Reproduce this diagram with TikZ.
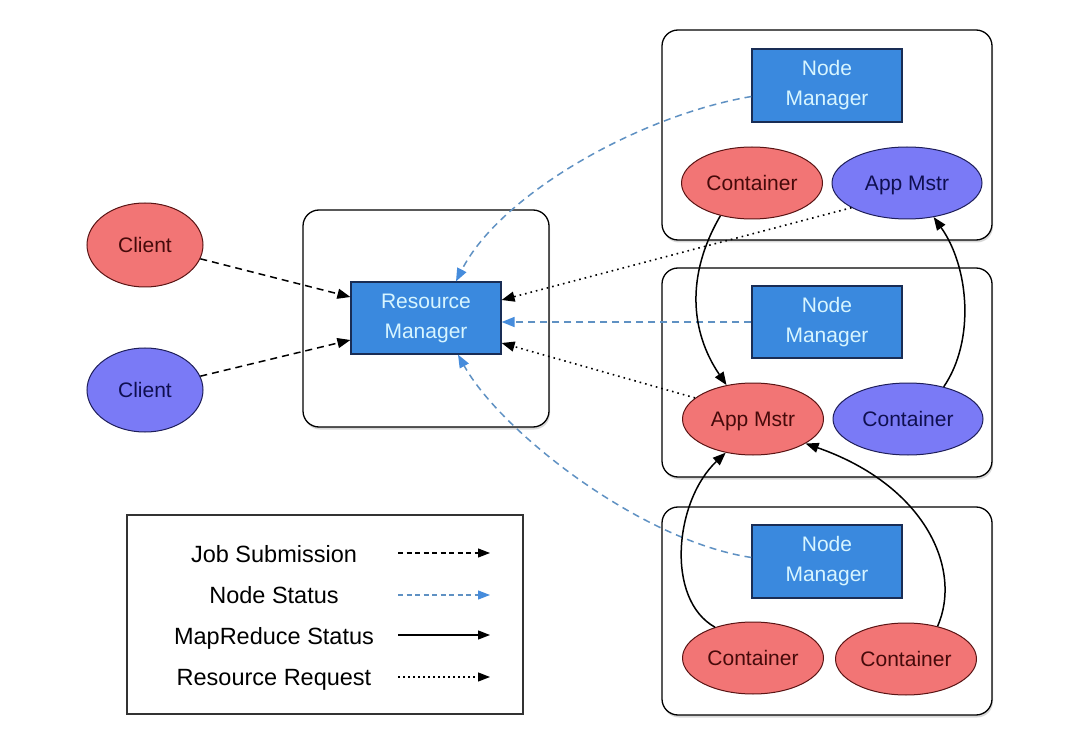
\documentclass[tikz,border=0pt]{standalone}
\usepackage{fontspec}
\setmainfont{Liberation Sans}
\usetikzlibrary{arrows.meta,shapes.geometric,shadows}
\definecolor{rmblue}{RGB}{58,137,222}
\definecolor{rmborder}{RGB}{25,45,85}
\definecolor{redfill}{RGB}{242,117,117}
\definecolor{redborder}{RGB}{90,20,20}
\definecolor{redtext}{RGB}{70,10,10}
\definecolor{purfill}{RGB}{122,122,246}
\definecolor{purborder}{RGB}{30,30,90}
\definecolor{purtext}{RGB}{15,15,80}
\definecolor{boxtext}{RGB}{215,245,255}
\definecolor{nsblue}{RGB}{95,145,195}
\definecolor{nshead}{RGB}{70,140,220}
\begin{document}
\begin{tikzpicture}[x=1pt,y=1pt,
  hostbox/.style={rectangle,draw=black,line width=1.3pt,rounded corners=16pt,fill=white,
    drop shadow={shadow xshift=1pt,shadow yshift=-2.5pt,opacity=0.3}},
  mgr/.style={rectangle,draw=rmborder,line width=1.2pt,fill=rmblue,text=boxtext,
    minimum width=150pt,minimum height=72pt,inner sep=0pt,align=center,
    font=\fontsize{21}{30}\selectfont},
  redell/.style={ellipse,draw=redborder,line width=1pt,fill=redfill,text=redtext,
    inner sep=0pt,text height=15pt,text depth=0pt,font=\fontsize{21}{24}\selectfont},
  purell/.style={ellipse,draw=purborder,line width=1pt,fill=purfill,text=purtext,
    inner sep=0pt,text height=15pt,text depth=0pt,font=\fontsize{21}{24}\selectfont},
  legtext/.style={anchor=base,font=\fontsize{23.5}{27}\selectfont,text=black},
  jobsub/.style={draw=black,line width=1.5pt,dash pattern=on 7pt off 5pt,
    -{Triangle[length=13pt,width=10pt]}},
  nodestat/.style={draw=nsblue,line width=1.5pt,dash pattern=on 7pt off 5pt,
    -{Triangle[length=13pt,width=10pt,color=nshead]}},
  mrstat/.style={draw=black,line width=1.5pt,-{Triangle[length=13pt,width=10pt]}},
  resreq/.style={draw=black,line width=1.6pt,dash pattern=on 1.6pt off 4pt,
    -{Triangle[length=13pt,width=10pt]}},
]
\useasboundingbox[fill=white] (0,0) rectangle (1080,-746);

% host boxes
\node[hostbox,minimum width=246pt,minimum height=217pt] (rmhost) at (426,-318.5) {};
\node[hostbox,minimum width=330pt,minimum height=210pt] (hostA) at (827,-135) {};
\node[hostbox,minimum width=330pt,minimum height=209pt] (hostB) at (827,-372.5) {};
\node[hostbox,minimum width=330pt,minimum height=208pt] (hostC) at (827,-611) {};
\node[rectangle,draw=black!80,line width=1.2pt,minimum width=396pt,minimum height=199pt] (legend) at (325,-614.5) {};

% managers
\node[mgr] (rm) at (426,-318) {Resource\\Manager};
\node[mgr,minimum height=73pt] (nmA) at (827,-85.5) {Node\\Manager};
\node[mgr] (nmB) at (827,-322) {Node\\Manager};
\node[mgr,minimum height=73pt] (nmC) at (827,-561.5) {Node\\Manager};

% clients
\node[redell,minimum width=116pt,minimum height=84pt] (cl1) at (145,-245) {Client};
\node[purell,minimum width=116pt,minimum height=84pt] (cl2) at (145,-390) {Client};

% containers / app masters
\node[redell,minimum width=141pt,minimum height=72pt] (ctA) at (752,-183) {Container};
\node[purell,minimum width=150pt,minimum height=72pt] (amA) at (907,-183) {App Mstr};
\node[redell,minimum width=141pt,minimum height=72pt] (amB) at (753,-419) {App Mstr};
\node[purell,minimum width=150pt,minimum height=72pt] (ctB) at (908,-419) {Container};
\node[redell,minimum width=141pt,minimum height=72pt] (ctC) at (753,-658) {Container};
\node[redell,minimum width=141pt,minimum height=72pt] (ctD) at (906,-659) {Container};

% job submission
\draw[jobsub] (cl1.-14) -- ([yshift=21pt]rm.west);
\draw[jobsub] (cl2.14) -- ([yshift=-22pt]rm.west);

% resource requests
\draw[resreq] (amA.204) -- ([yshift=18pt]rm.east);
\draw[resreq] (amB.160) -- ([yshift=-25pt]rm.east);

% node status
\draw[nodestat] ([yshift=-11pt]nmA.west) .. controls +(-112,-19) and +(44,87) .. ([xshift=30pt]rm.north);
\draw[nodestat] (nmB.west) -- (nmB.west -| rm.east);
\draw[nodestat] ([yshift=4pt]nmC.west) .. controls +(-112,17) and +(42,-76) .. ([xshift=32pt]rm.south);

% mapreduce status
\draw[mrstat] (ctA.226) .. controls +(-35,-60) and +(-36,53) .. (amB.128);
\draw[mrstat] (ctB.42) .. controls +(32,47) and +(35,-49) .. (amA.-52);
\draw[mrstat] (ctC.141) .. controls +(-50,28) and +(-51,-48) .. (amB.231);
\draw[mrstat] (ctD.46) .. controls +(25,57) and +(120,-42) .. (amB.-25);

% legend
\node[legtext] (lg1) at (274,-562) {Job Submission};
\node[legtext] (lg2) at (274,-603) {Node Status};
\node[legtext] (lg3) at (274,-644) {MapReduce Status};
\node[legtext] (lg4) at (274,-685) {Resource Request};
\coordinate (la1) at (398,-553); \coordinate (lb1) at (490,-553);
\coordinate (la2) at (398,-595); \coordinate (lb2) at (490,-595);
\coordinate (la3) at (398,-635); \coordinate (lb3) at (490,-635);
\coordinate (la4) at (398,-677); \coordinate (lb4) at (490,-677);
\draw[jobsub,line width=1.1pt,dash pattern=on 5pt off 3.5pt,-{Triangle[length=12pt,width=9pt]}] (la1) -- (lb1);
\draw[nodestat,line width=1.1pt,dash pattern=on 5pt off 3.5pt,-{Triangle[length=12pt,width=9pt,color=nshead]}] (la2) -- (lb2);
\draw[mrstat,line width=1.3pt,-{Triangle[length=12pt,width=9pt]}] (la3) -- (lb3);
\draw[resreq,line width=1.3pt,dash pattern=on 1.5pt off 3.5pt,-{Triangle[length=12pt,width=9pt]}] (la4) -- (lb4);
\end{tikzpicture}
\end{document}
